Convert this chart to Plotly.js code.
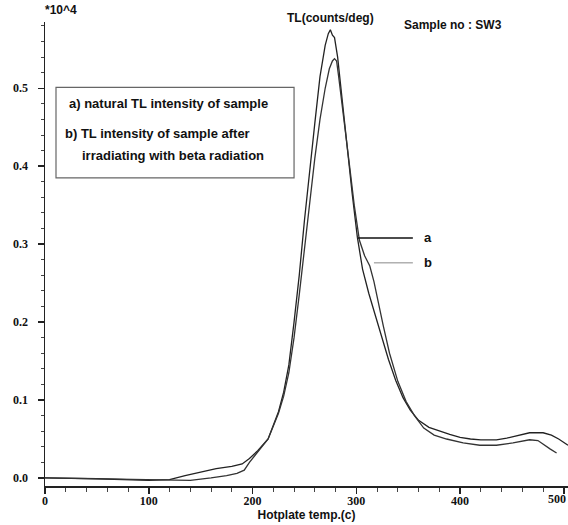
<!DOCTYPE html>
<html>
<head>
<meta charset="utf-8">
<script src="https://cdn.plot.ly/plotly-3.0.1.min.js"></script>
<style>html,body{margin:0;padding:0;background:#fff;}#chart{width:568px;height:525px;}</style>
</head>
<body>
<div id="chart"></div>
<script>
// Curve a: natural TL (temperature in C, intensity in units of 10^4 counts/deg)
const tempA = [0, 50, 100, 120, 135, 150, 165, 180, 190, 197, 205, 215, 225, 230, 235, 240, 245, 250, 255, 260, 265, 270, 273, 275, 277, 279, 282, 285, 288, 292, 296, 301, 306, 312, 318, 325, 331, 338, 345, 352, 360, 370, 380, 390, 400, 410, 420, 435, 445, 455, 467, 480, 488, 495, 504];
const tlA   = [0.000, -0.001, -0.003, -0.002, 0.003, 0.008, 0.012, 0.015, 0.018, 0.025, 0.035, 0.050, 0.085, 0.110, 0.145, 0.200, 0.260, 0.330, 0.395, 0.455, 0.515, 0.555, 0.570, 0.575, 0.568, 0.565, 0.540, 0.500, 0.460, 0.415, 0.365, 0.309, 0.268, 0.237, 0.210, 0.178, 0.152, 0.125, 0.103, 0.087, 0.074, 0.065, 0.060, 0.056, 0.052, 0.050, 0.049, 0.049, 0.051, 0.054, 0.058, 0.058, 0.055, 0.050, 0.042];
// Curve b: TL after beta irradiation
const tempB = [0, 50, 100, 140, 160, 175, 185, 192, 197, 205, 215, 225, 230, 235, 240, 245, 250, 255, 260, 265, 270, 274, 277, 279, 281, 283, 286, 290, 294, 298, 303, 308, 313, 317, 321, 326, 332, 340, 348, 356, 365, 375, 387, 403, 419, 435, 451, 467, 475, 480, 487, 493];
const tlB   = [0.000, -0.001, -0.002, -0.003, 0.000, 0.003, 0.006, 0.010, 0.020, 0.033, 0.050, 0.083, 0.105, 0.135, 0.180, 0.235, 0.295, 0.355, 0.410, 0.460, 0.500, 0.525, 0.535, 0.538, 0.535, 0.515, 0.480, 0.440, 0.395, 0.350, 0.305, 0.285, 0.272, 0.252, 0.225, 0.195, 0.160, 0.124, 0.098, 0.080, 0.064, 0.055, 0.050, 0.045, 0.042, 0.042, 0.045, 0.049, 0.048, 0.043, 0.037, 0.032];
const xTicks = [0, 100, 200, 300, 400, 500];
const xTickText = ['0', '100', '200', '300', '400', ''];
const yTicks = [0.0, 0.1, 0.2, 0.3, 0.4, 0.5];

function serif(s) { return {family: 'Liberation Serif, Times New Roman, serif', size: s, color: '#111', weight: 700}; }
function sans(s) { return {family: 'Liberation Sans, Arial, sans-serif', size: s, color: '#111', weight: 700}; }

const traces = [
  {x: tempA, y: tlA, type: 'scatter', mode: 'lines', line: {color: '#222', width: 1.3}, hoverinfo: 'skip'},
  {x: tempB, y: tlB, type: 'scatter', mode: 'lines', line: {color: '#333', width: 1.3}, hoverinfo: 'skip'}
];

const layout = {
  width: 568, height: 525,
  margin: {l: 45, r: 0, t: 22, b: 39},
  paper_bgcolor: '#fff', plot_bgcolor: '#fff',
  showlegend: false,
  xaxis: {
    range: [0, 504], showgrid: false, zeroline: false,
    showline: true, linecolor: '#222', linewidth: 1.5,
    tickmode: 'array', tickvals: xTicks, ticktext: xTickText,
    ticks: 'outside', ticklen: 6, tickwidth: 1.5, tickcolor: '#222',
    minor: {dtick: 20, ticks: 'outside', ticklen: 4, tickcolor: '#444', tickwidth: 1},
    tickfont: serif(12), ticklabelstandoff: -3,
    title: {text: 'Hotplate temp.(c)', font: sans(12), standoff: 0}
  },
  yaxis: {
    range: [-0.0103, 0.585], showgrid: false, zeroline: false,
    showline: true, linecolor: '#222', linewidth: 1.5,
    tickmode: 'array', tickvals: yTicks, ticktext: yTicks.map(v => v.toFixed(1)),
    ticks: 'outside', ticklen: 6, tickwidth: 1.5, tickcolor: '#222',
    minor: {dtick: 0.02, tick0: 0, ticks: 'outside', ticklen: 3, tickcolor: '#444', tickwidth: 1},
    tickfont: serif(12), ticklabelstandoff: 7
  },
  shapes: [
    {type: 'rect', xref: 'x', yref: 'y', x0: 10.6, x1: 240, y0: 0.385, y1: 0.501, line: {color: '#666', width: 1.2}, fillcolor: 'rgba(0,0,0,0)'},
    {type: 'line', xref: 'x', yref: 'y', x0: 301.5, x1: 354.5, y0: 0.308, y1: 0.308, line: {color: '#111', width: 1.5}},
    {type: 'line', xref: 'x', yref: 'y', x0: 317, x1: 354.5, y0: 0.276, y1: 0.276, line: {color: '#888', width: 1}}
  ],
  annotations: [
    {text: 'a) natural TL intensity of sample', xref: 'x', yref: 'y', x: 21, y: 0.481, xanchor: 'left', yanchor: 'middle', showarrow: false, font: sans(13)},
    {text: 'b) TL intensity of sample after', xref: 'x', yref: 'y', x: 17.3, y: 0.442, xanchor: 'left', yanchor: 'middle', showarrow: false, font: sans(13)},
    {text: 'irradiating with beta radiation', xref: 'x', yref: 'y', x: 33.7, y: 0.414, xanchor: 'left', yanchor: 'middle', showarrow: false, font: sans(13)},
    {text: 'a', xref: 'x', yref: 'y', x: 363, y: 0.308, xanchor: 'left', yanchor: 'middle', showarrow: false, font: sans(13)},
    {text: 'b', xref: 'x', yref: 'y', x: 363, y: 0.276, xanchor: 'left', yanchor: 'middle', showarrow: false, font: sans(13)},
    {text: 'TL(counts/deg)', xref: 'paper', yref: 'paper', x: 0.545, y: 1.0086, xanchor: 'center', yanchor: 'middle', showarrow: false, font: sans(12)},
    {text: 'Sample no : SW3', xref: 'paper', yref: 'paper', x: 0.6826, y: 0.9935, xanchor: 'left', yanchor: 'middle', showarrow: false, font: sans(12)},
    {text: '*10^4', xref: 'paper', yref: 'paper', x: -0.004, y: 1.026, xanchor: 'left', yanchor: 'middle', showarrow: false, font: sans(12)},
    {text: '500', xref: 'paper', yref: 'paper', x: 1, y: -0.028, xanchor: 'right', yanchor: 'middle', showarrow: false, font: serif(12)}
  ]
};

Plotly.newPlot('chart', traces, layout, {staticPlot: true, displayModeBar: false});
</script>
</body>
</html>
